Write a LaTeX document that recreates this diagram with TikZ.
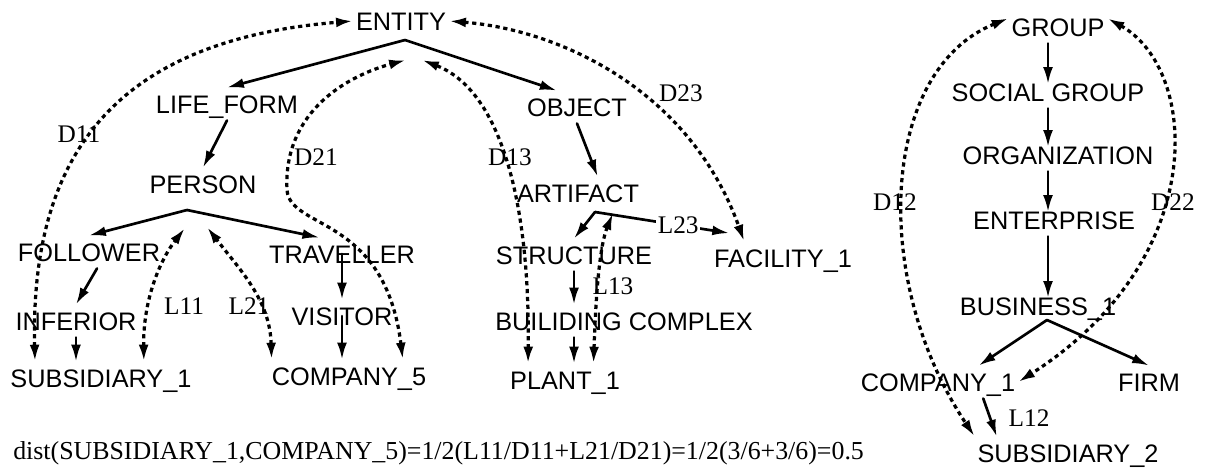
\documentclass[tikz,border=0pt]{standalone}
\usepackage{fontspec}
\setmainfont{Liberation Serif}
\setsansfont{Liberation Sans}
\usetikzlibrary{arrows.meta}

\begin{document}
\begin{tikzpicture}[x=0.025cm, y=-0.025cm,
    >={Latex[length=12pt,width=7pt]},
    term/.style={font=\sffamily\fontsize{18}{20}\selectfont, text height=13pt,
                 text depth=0pt, inner xsep=2pt, inner ysep=5pt},
    lbl/.style={font=\fontsize{18}{20}\selectfont, text height=12pt,
                text depth=0pt, inner sep=1pt},
    isa/.style={->, line width=1.9pt, line cap=round},
    down/.style={isa, shorten >=-6pt},
    hop/.style={<->, line width=2.3pt, dash pattern=on 3pt off 2.6pt}
]
    \fill[white] (0,0) rectangle (1208,468);
    \useasboundingbox (0,0) rectangle (1208,468);

    % first hierarchy
    \node[term] (ent)  at (401,21)  {ENTITY};
    \node[term] (lf)   at (227,104) {LIFE\_FORM};
    \node[term] (per)  at (203,184) {PERSON};
    \node[term] (fol)  at (89,252)  {FOLLOWER};
    \node[term] (tra)  at (342,254) {TRAVELLER};
    \node[term] (inf)  at (76,321)  {INFERIOR};
    \node[term] (vis)  at (342,316) {VISITOR};
    \node[term] (sub1) at (101,378) {SUBSIDIARY\_1};
    \node[term] (com5) at (349,376) {COMPANY\_5};
    \node[term] (ob)   at (577,107) {OBJECT};
    \node[term] (art)  at (578,193) {ARTIFACT};
    \node[term] (str)  at (574,255) {STRUCTURE};
    \node[term] (fac)  at (783,258) {FACILITY\_1};
    \node[term] (bc)   at (624,321) {BUILIDING COMPLEX};
    \node[term] (pl)   at (565,380) {PLANT\_1};

    % second hierarchy
    \node[term] (grp)  at (1058,27)  {GROUP};
    \node[term] (sg)   at (1048,92)  {SOCIAL GROUP};
    \node[term] (org)  at (1058,155) {ORGANIZATION};
    \node[term] (ep)   at (1054,220) {ENTERPRISE};
    \node[term] (bus)  at (1038,306) {BUSINESS\_1};
    \node[term] (com1) at (938,382)  {COMPANY\_1};
    \node[term] (firm) at (1149,382) {FIRM};
    \node[term] (sub2) at (1068,453) {SUBSIDIARY\_2};

    \coordinate (ea) at (405,40);
    \coordinate (pa) at (187,210);
    \coordinate (aa) at (595,212);
    \coordinate (ba) at (1047,320);

    % is-a links
    \draw[isa] (ea) -- (lf.north);
    \draw[isa] (ea) -- (ob.141);
    \draw[isa] (lf.south) -- (per.north);
    \draw[isa] (pa) -- (fol.north);
    \draw[isa] (pa) -- (tra.144);
    \draw[isa] (fol.-64) -- (inf.north);
    \draw[isa] (inf.south) -- (inf.south |- sub1.north);
    \draw[isa] (tra.center) -- (tra.center |- vis.north);
    \draw[isa] (vis.center) -- (vis.center |- com5.north);
    \draw[isa] (ob.south) -- (art.40);
    \draw[isa] (aa) -- (str.north);
    \draw[isa] (aa) -- node[lbl, fill=white, pos=0.62] (l23) {L23} ([yshift=6pt]fac.163);
    \draw[isa] (str.south) -- (str.south |- bc.north);
    \draw[isa] (str.south |- bc.south) -- (str.south |- pl.north);

    \draw[down] (sg.north |- grp.south) -- (sg.north);
    \draw[down] (sg.south) -- (sg.south |- org.north);
    \draw[down] (sg.south |- org.south) -- (sg.south |- ep.north);
    \draw[down] (sg.south |- ep.south) -- (sg.south |- bus.north);
    \draw[isa] (ba) -- (com1.22);
    \draw[isa] (ba) -- (firm.north);
    \draw[isa] (com1.-20) -- (sub2.167);

    % path lengths
    \coordinate (d21e) at (406,60);
    \coordinate (d13e) at (422,60);
    \coordinate (l11e) at (185,228);
    \coordinate (l21e) at (207,227);
    \coordinate (l13e) at (613,213);

    \draw[hop] (sub1.166) .. controls (30,150) and (120,40) .. (ent.west);
    \draw[hop] (com5.17) .. controls (385,215) and (290,230) .. (287,190)
                         .. controls (283,110) and (350,75) .. (d21e);
    \draw[hop] (pl.156) .. controls (530,200) and (500,90) .. (d13e);
    \draw[hop] (ent.east) .. controls (560,30) and (690,90) .. (fac.157);
    \draw[hop] (sub1.21) .. controls (143,300) and (160,260) .. (l11e);
    \draw[hop] (com5.168) .. controls (270,300) and (240,270) .. (l21e);
    \draw[hop] (pl.30) .. controls (596,290) and (600,245) .. (l13e);
    \draw[hop] (grp.170) .. controls (880,70) and (870,280) .. (sub2.170);
    \draw[hop] (grp.10) .. controls (1200,70) and (1210,260) .. (com1.east);

    \node[lbl] (d11) at (79,134)   {D11};
    \node[lbl] (d21) at (316,157)  {D21};
    \node[lbl] (d13) at (510,157)  {D13};
    \node[lbl] (d23) at (681,93)   {D23};
    \node[lbl] (l11) at (184,306)  {L11};
    \node[lbl] (l21) at (249,306)  {L21};
    \node[lbl] (l13) at (613,286)  {L13};
    \node[lbl] (d12) at (895,202)  {D12};
    \node[lbl] (d22) at (1173,202) {D22};
    \node[lbl] (l12) at (1029,418) {L12};

    \node[anchor=base west, inner sep=0pt, font=\fontsize{18.4}{20}\selectfont] (eq)
        at (13,459) {dist(SUBSIDIARY\_1,COMPANY\_5)=1/2(L11/D11+L21/D21)=1/2(3/6+3/6)=0.5};
\end{tikzpicture}
\end{document}
